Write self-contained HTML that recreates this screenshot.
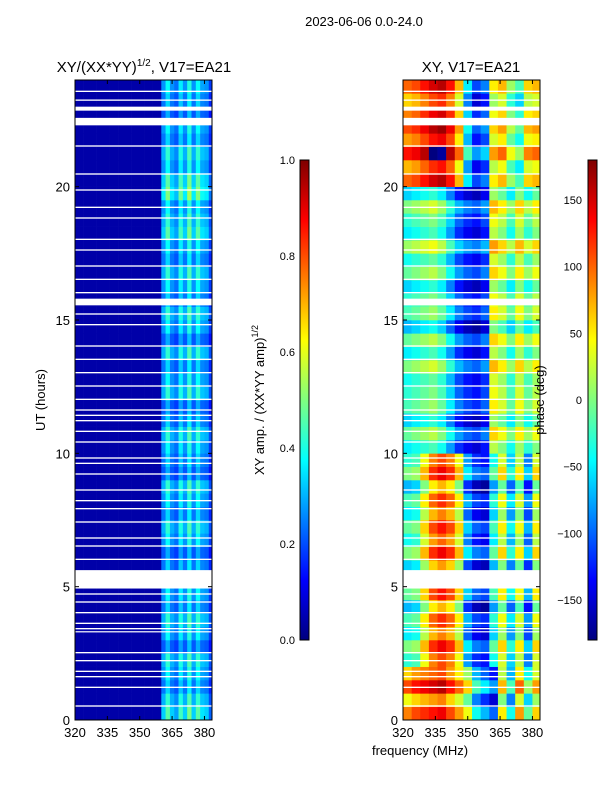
<!DOCTYPE html>
<html><head><meta charset="utf-8"><style>
body{margin:0;background:#fff;}
svg{display:block;font-family:"Liberation Sans",sans-serif;}
</style></head><body>
<svg id="fig" width="600" height="800" xmlns="http://www.w3.org/2000/svg">
<defs>
<linearGradient id="jet" x1="0" y1="1" x2="0" y2="0">
<stop offset="0" stop-color="#00007f"/><stop offset="0.125" stop-color="#0000ff"/>
<stop offset="0.375" stop-color="#00ffff"/><stop offset="0.625" stop-color="#ffff00"/>
<stop offset="0.875" stop-color="#ff0000"/><stop offset="1" stop-color="#7f0000"/>
</linearGradient>
</defs>
<text x="364" y="26" font-size="13" text-anchor="middle">2023-06-06 0.0-24.0</text>
<text x="144" y="72" font-size="15" text-anchor="middle">XY/(XX*YY)<tspan font-size="10" dy="-6">1/2</tspan><tspan dy="6">, V17=EA21</tspan></text>
<text x="471" y="72" font-size="15" text-anchor="middle">XY, V17=EA21</text>
<g id="left"></g>
<g id="right"></g>
<g id="axes"></g>
<text transform="translate(45,400) rotate(-90)" font-size="13" text-anchor="middle">UT (hours)</text>
<text x="420" y="755" font-size="13" text-anchor="middle">frequency (MHz)</text>
<rect x="300" y="160" width="9" height="480" fill="url(#jet)" stroke="#000" stroke-width="1"/>
<rect x="588" y="160" width="9" height="480" fill="url(#jet)" stroke="#000" stroke-width="1"/>
<text transform="translate(264,400) rotate(-90)" font-size="13" text-anchor="middle">XY amp. / (XX*YY amp)<tspan font-size="9" dy="-6">1/2</tspan></text>
<text transform="translate(544,400) rotate(-90)" font-size="13" text-anchor="middle">phase (deg)</text>
</svg>
<script>
// ---- data ----
const freqBinsLeft = [320,322,324,326,328,330,332,334,336,338,340,342,344,346,348,350,352,354,356,358,360,362,364,366,368,370,372,374,376,378,380,382];
const ampProfile = [0.04,0.04,0.04,0.04,0.04,0.04,0.04,0.04,0.04,0.04,0.04,0.04,0.04,0.04,0.04,0.04,0.04,0.04,0.04,0.04,0.3,0.42,0.3,0.26,0.4,0.3,0.45,0.3,0.42,0.32,0.3,0.2];
const ampRowScale = [1.1,1.0,0.8,0.9,1.0,0.7,0.9,1.0,0.8,0.9,1.0,0.8,0.7,0.9,1.0,0.8,0.9,1.0,0.7,0.8,0.9,1.0,0.8,0.7,1.0,0.9,0.8,1.0,0.7,0.9,1.0,0.8,0.9,1.0,0.8,0.9,1.1,1.0,0.9,1.2,1.1,0.9,1.0,0.8,0.9,0.7,0.8,0.9];
const phaseFreqBins = [320,324,328,332,336,340,344,348,352,356,360,364,368,372,376,380];
const phaseEraStart = [0,2,10,20];
const phaseEraA = [70,90,100,110,120,90,60,20,-60,-90,-120,30,-60,60,-30,40];
const phaseEraB = [-30,-20,40,90,110,90,40,-80,-120,-130,-40,30,-60,20,-90,30];
const phaseEraC = [-30,-20,-10,0,-20,-60,-100,-120,-130,-110,40,20,-20,30,-10,20];
const phaseEraD = [90,100,120,140,150,120,60,-60,-120,-100,40,60,0,-30,50,60];
const phaseRowShift = [20,-30,40,-10,0,30,-20,10,-40,20,0,-30,30,-10,20,-20,10,-40,30,0,-20,20,-30,10,0,-10,30,-20,20,-40,10,0,-30,20,-10,40,-20,0,30,-30,10,-20,40,-10,20,0,-30,10];
const gaps = [[22.85,23.0],[22.3,22.58],[15.55,15.8],[4.93,5.62],[23.55,23.6],[23.22,23.27],[21.5,21.55],[20.45,20.5],[19.85,19.9],[19.2,19.25],[18.8,18.85],[18.0,18.05],[17.6,17.65],[17.0,17.05],[16.5,16.55],[16.0,16.05],[15.2,15.25],[14.8,14.85],[14.0,14.05],[13.5,13.55],[13.0,13.05],[12.5,12.55],[12.0,12.05],[11.6,11.65],[11.4,11.45],[11.2,11.25],[10.8,10.85],[10.4,10.45],[9.8,9.85],[9.6,9.65],[9.2,9.25],[8.6,8.65],[8.2,8.25],[7.9,7.95],[7.4,7.45],[6.8,6.85],[6.5,6.55],[6.0,6.05],[4.7,4.75],[4.4,4.45],[4.0,4.05],[3.6,3.65],[3.4,3.45],[3.3,3.33],[2.5,2.55],[2.2,2.25],[1.8,1.85],[1.6,1.65],[1.2,1.25],[0.5,0.55]];
const xTicks = [320,335,350,365,380];
const yTicks = [0,5,10,15,20];
const ampTicks = [0.0,0.2,0.4,0.6,0.8,1.0];
const phaseTicks = [-150,-100,-50,0,50,100,150];

// ---- scales ----
const NS="http://www.w3.org/2000/svg";
const fMin=320,fMax=383.5,hMax=24;
const panels=[{x0:75,g:'left'},{x0:403,g:'right'}];
const W=137,Y0=720,Y1=80;
const xs=(x0,f)=>x0+(f-fMin)/(fMax-fMin)*W;
const ys=h=>Y0-h/hMax*(Y0-Y1);
function jet(v){v=Math.max(0,Math.min(1,v));
 const r=Math.min(4*v-1.5,-4*v+4.5),g=Math.min(4*v-0.5,-4*v+3.5),b=Math.min(4*v+0.5,-4*v+2.5);
 const c=x=>Math.round(255*Math.max(0,Math.min(1,x)));return `rgb(${c(r)},${c(g)},${c(b)})`;}
function mk(tag,attrs,parent){const e=document.createElementNS(NS,tag);for(const k in attrs)e.setAttribute(k,attrs[k]);parent.appendChild(e);return e;}
const gl=document.getElementById('left'),gr=document.getElementById('right'),ga=document.getElementById('axes');
const nRows=phaseRowShift.length,dh=hMax/nRows;
for(let r=0;r<nRows;r++){for(let c=0;c<freqBinsLeft.length;c++){
 const f0=freqBinsLeft[c],f1=Math.min(f0+2,fMax);
 const v=freqBinsLeft[c]<360?ampProfile[c]:ampProfile[c]*ampRowScale[r];
 const e=mk('rect',{x:xs(75,f0),y:ys((r+1)*dh),width:xs(75,f1)-xs(75,f0)+0.3,height:ys(r*dh)-ys((r+1)*dh)+0.3,fill:jet(v)},gl);
 
 
}}
const eras=[phaseEraA,phaseEraB,phaseEraC,phaseEraD];
for(let r=0;r<nRows;r++){const h=r*dh;let ei=0;for(let k=0;k<phaseEraStart.length;k++)if(h>=phaseEraStart[k])ei=k;
 for(let c=0;c<phaseFreqBins.length;c++){
  let p=eras[ei][c]+phaseRowShift[r];p=((p+180)%360+360)%360-180;
  const f0=phaseFreqBins[c],f1=Math.min(f0+4,fMax);
  const e=mk('rect',{x:xs(403,f0),y:ys((r+1)*dh),width:xs(403,f1)-xs(403,f0)+0.3,height:ys(r*dh)-ys((r+1)*dh)+0.3,fill:jet((p+180)/360)},gr);
  
  
 }}
for(const p of panels){for(const g of gaps){
 const e=mk('rect',{x:p.x0,y:ys(g[1]),width:W,height:Math.max(1.2,ys(g[0])-ys(g[1])),fill:'#fff'},ga);
 
 
}}
for(const p of panels){
 const fr=mk('rect',{x:p.x0,y:Y1,width:W,height:Y0-Y1,fill:'none',stroke:'#000','stroke-width':1},ga);
 
 
 for(const t of xTicks){const x=xs(p.x0,t);
  mk('line',{x1:x,x2:x,y1:Y0,y2:Y0-4,stroke:'#000'},ga);mk('line',{x1:x,x2:x,y1:Y1,y2:Y1+4,stroke:'#000'},ga);
  const tx=mk('text',{x:x,y:Y0+17,'font-size':13,'text-anchor':'middle'},ga);tx.textContent=t;
  
  }
 for(const t of yTicks){const y=ys(t);
  mk('line',{x1:p.x0,x2:p.x0+4,y1:y,y2:y,stroke:'#000'},ga);mk('line',{x1:p.x0+W,x2:p.x0+W-4,y1:y,y2:y,stroke:'#000'},ga);
  const tx=mk('text',{x:p.x0-5,y:y+5,'font-size':13,'text-anchor':'end'},ga);tx.textContent=t;
  
  }
}
for(const t of ampTicks){const y=640-t*480;
 mk('line',{x1:300,x2:304,y1:y,y2:y,stroke:'#000'},ga);mk('line',{x1:309,x2:305,y1:y,y2:y,stroke:'#000'},ga);
 const tx=mk('text',{x:295,y:y+4,'font-size':11,'text-anchor':'end'},ga);tx.textContent=t.toFixed(1);
 
 }
for(const t of phaseTicks){const y=640-(t+180)/360*480;
 mk('line',{x1:588,x2:592,y1:y,y2:y,stroke:'#000'},ga);mk('line',{x1:597,x2:593,y1:y,y2:y,stroke:'#000'},ga);
 const tx=mk('text',{x:582,y:y+4,'font-size':11,'text-anchor':'end'},ga);tx.textContent=t<0?'\u2212'+(-t):t;
 
 }
</script>
</body></html>
